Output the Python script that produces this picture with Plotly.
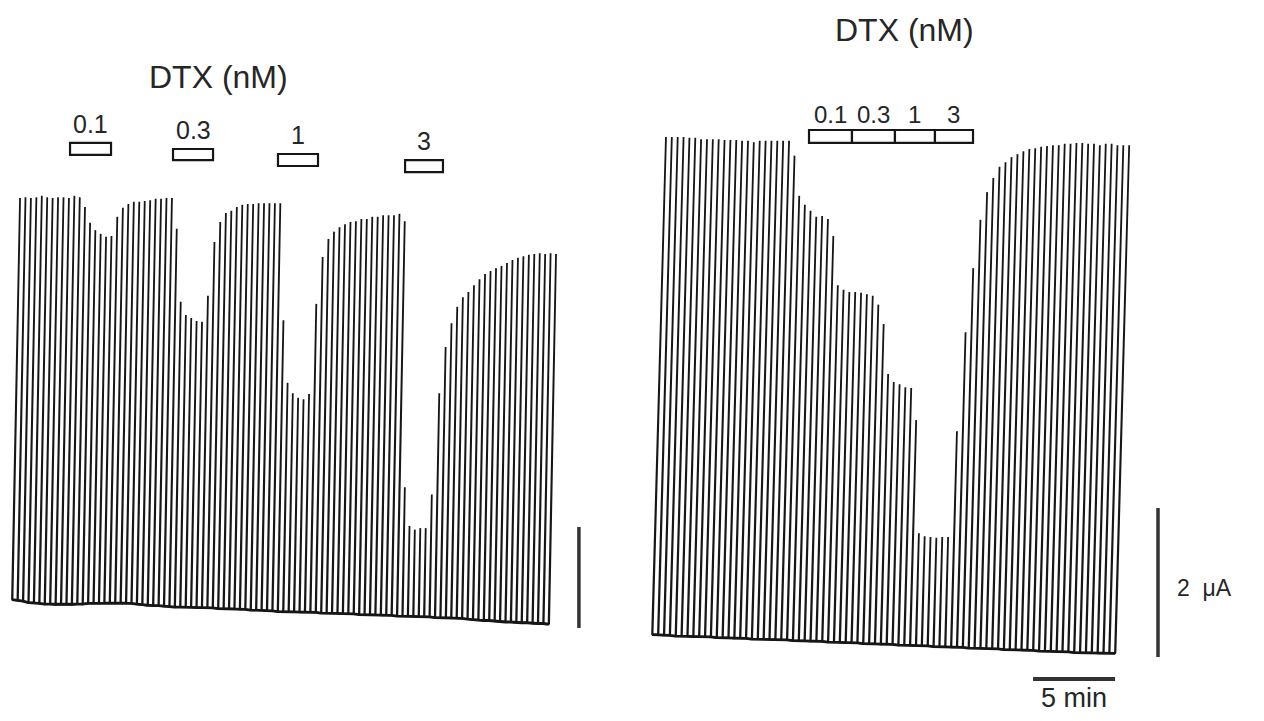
import numpy as np
import plotly.graph_objects as go

# ---------------- data (time in min, current in µA) ----------------
left_t0, left_dt = 0.732, 0.3305          # first pulse time, pulse interval (min)
right_t0, right_dt = 39.76, 0.3573

left_peak = [6.20, 6.21, 6.20, 6.21, 6.23, 6.21, 6.20, 6.21, 6.21, 6.20, 6.23, 6.21,
             6.08, 5.87, 5.77, 5.72, 5.68, 5.69, 5.95, 6.07, 6.12, 6.15, 6.15, 6.16,
             6.17, 6.19, 6.19, 6.20, 6.20,
             5.79, 4.81, 4.63, 4.59, 4.55, 4.54, 4.89, 5.61, 5.88, 6.00, 6.03, 6.08,
             6.11, 6.12, 6.12, 6.13, 6.13, 6.13, 6.13, 6.13,
             4.56, 3.72, 3.58, 3.52, 3.50, 3.57, 4.78, 5.41, 5.65, 5.75, 5.81, 5.85,
             5.88, 5.89, 5.92, 5.92, 5.95, 5.95, 5.97, 5.97, 5.97, 5.99, 5.89,
             2.32, 1.80, 1.75, 1.77, 1.77, 2.22, 3.58, 4.20, 4.52, 4.74, 4.87, 4.94,
             5.03, 5.11, 5.18, 5.22, 5.26, 5.29, 5.33, 5.37, 5.40, 5.42, 5.44, 5.45,
             5.46, 5.45, 5.46, 5.45]
left_base = [0.81, 0.80, 0.79, 0.77, 0.77, 0.76, 0.75, 0.75, 0.74, 0.74,
             0.74, 0.74, 0.75, 0.75, 0.76, 0.76, 0.76, 0.77, 0.77, 0.77,
             0.77, 0.77, 0.76, 0.75, 0.74, 0.73, 0.73, 0.73, 0.72, 0.72,
             0.71, 0.71, 0.71, 0.71, 0.70, 0.70, 0.70, 0.70, 0.69, 0.69,
             0.69, 0.69, 0.68, 0.68, 0.67, 0.67, 0.67, 0.66, 0.66, 0.65,
             0.65, 0.65, 0.65, 0.64, 0.64, 0.64, 0.64, 0.63, 0.63, 0.63,
             0.63, 0.62, 0.62, 0.62, 0.61, 0.61, 0.61, 0.61, 0.60, 0.60,
             0.60, 0.59, 0.59, 0.59, 0.59, 0.58, 0.58, 0.58, 0.57, 0.57,
             0.57, 0.57, 0.56, 0.56, 0.55, 0.54, 0.54, 0.53, 0.53, 0.52,
             0.52, 0.51, 0.51, 0.50, 0.50, 0.50, 0.49, 0.49, 0.49, 0.48]

right_peak = [7.02, 7.02, 7.02, 7.02, 7.01, 7.01, 6.99, 6.99, 6.99, 6.99, 6.98,
              6.98, 6.98, 6.97, 6.97, 6.95, 6.97, 6.97, 6.97, 6.97, 6.97, 6.97,
              6.77, 6.23, 6.11, 6.03, 5.95, 5.96, 5.92, 5.69,
              5.03, 4.97, 4.94, 4.94, 4.93, 4.91, 4.89, 4.77, 4.51,
              3.84, 3.73, 3.70, 3.66, 3.65,
              3.22, 1.70, 1.66, 1.65, 1.64, 1.65, 1.65,
              3.07, 4.40, 5.26, 5.91, 6.28, 6.47,
              6.62, 6.68, 6.75, 6.79, 6.83, 6.86, 6.87, 6.89, 6.90, 6.91, 6.91,
              6.93, 6.93, 6.94, 6.94, 6.93, 6.93, 6.91, 6.93, 6.93, 6.91, 6.91, 6.91]
right_base = [0.34, 0.34, 0.33, 0.33, 0.32, 0.32, 0.32, 0.31, 0.31, 0.31,
              0.31, 0.30, 0.30, 0.30, 0.29, 0.29, 0.29, 0.28, 0.28, 0.28,
              0.28, 0.27, 0.27, 0.27, 0.26, 0.26, 0.26, 0.25, 0.25, 0.25,
              0.24, 0.24, 0.24, 0.23, 0.23, 0.23, 0.22, 0.22, 0.22, 0.21,
              0.21, 0.21, 0.20, 0.20, 0.20, 0.19, 0.19, 0.19, 0.18, 0.18,
              0.18, 0.17, 0.17, 0.17, 0.16, 0.16, 0.16, 0.15, 0.15, 0.15,
              0.14, 0.14, 0.14, 0.13, 0.13, 0.13, 0.12, 0.12, 0.12, 0.11,
              0.11, 0.11, 0.10, 0.10, 0.10, 0.10, 0.09, 0.09, 0.09, 0.09]

dtx_labels = ["0.1", "0.3", "1", "3"]
left_dtx_start = [4.27, 10.55, 16.95, 24.70]
left_dtx_end = [6.77, 12.99, 19.39, 27.01]
right_dtx_start = [49.33, 51.95, 54.57, 57.01]
right_dtx_end = [51.95, 54.57, 57.01, 59.33]

# calibration bars
amp_bar_left = (35.3, 0.43, 1.785)   # x, y0, y1 (unlabelled)
amp_bar = (70.61, 0.04, 2.04)        # 2 µA
time_bar = (62.99, 67.99, -0.255)    # 5 min

# ---------------- styling / layout constants ----------------
PX_PER_MIN = 16.4
PX_PER_UA = 74.5
W, H = 1264, 721
PAGE_MARGIN = 8                      # default body margin of the html page
Y_ZERO_PX = 660
LEAN_LEFT, LEAN_RIGHT = 0.091, 0.127   # pen slant (min per µA)
left_box_y = [(6.78, 6.94), (6.711, 6.859), (6.631, 6.792), (6.550, 6.711)]
right_box_y = (6.94, 7.114)
FONT = "Liberation Sans, Arial, Helvetica, sans-serif"
INK = "#161616"
TEXT = "#262626"


def pen_path(t0, dt, peak, base, lean):
    xs, ys = [], []
    for i, (p, b) in enumerate(zip(peak, base)):
        tb = t0 + dt * i
        tt = tb + lean * (p - b)
        xs += [tb, tt, tb + 0.03]
        ys += [b, p, b]
    return xs, ys


fig = go.Figure()
for t0, dt, pk, bs, ln in [(left_t0, left_dt, left_peak, left_base, LEAN_LEFT),
                           (right_t0, right_dt, right_peak, right_base, LEAN_RIGHT)]:
    xs, ys = pen_path(t0, dt, pk, bs, ln)
    fig.add_trace(go.Scatter(x=xs, y=ys, mode="lines",
                             line=dict(color=INK, width=1.8),
                             hoverinfo="skip", showlegend=False))
    tb = [t0 + dt * i for i in range(len(bs))]
    fig.add_trace(go.Scatter(x=tb, y=bs, mode="lines",
                             line=dict(color=INK, width=2.8),
                             hoverinfo="skip", showlegend=False))

shapes = []
annotations = []
for s, e, (y0, y1), lab in zip(left_dtx_start, left_dtx_end, left_box_y, dtx_labels):
    shapes.append(dict(type="rect", xref="x", yref="y", x0=s, x1=e, y0=y0, y1=y1,
                       line=dict(color=INK, width=2.2), fillcolor="white"))
    annotations.append(dict(x=(s + e) / 2, y=y1 + 0.26, xref="x", yref="y",
                            text=lab, showarrow=False,
                            font=dict(family=FONT, size=25, color=TEXT)))
for s, e, lab in zip(right_dtx_start, right_dtx_end, dtx_labels):
    shapes.append(dict(type="rect", xref="x", yref="y", x0=s, x1=e,
                       y0=right_box_y[0], y1=right_box_y[1],
                       line=dict(color=INK, width=2.2), fillcolor="white"))
    annotations.append(dict(x=(s + e) / 2, y=right_box_y[1] + 0.21, xref="x", yref="y",
                            text=lab, showarrow=False,
                            font=dict(family=FONT, size=24, color=TEXT)))

annotations.append(dict(x=13.35, y=7.83, xref="x", yref="y", text="DTX (nM)",
                        showarrow=False, font=dict(family=FONT, size=32, color=TEXT)))
annotations.append(dict(x=55.18, y=8.46, xref="x", yref="y", text="DTX (nM)",
                        showarrow=False, font=dict(family=FONT, size=32, color=TEXT)))

shapes.append(dict(type="line", xref="x", yref="y", x0=amp_bar_left[0], x1=amp_bar_left[0],
                   y0=amp_bar_left[1], y1=amp_bar_left[2], line=dict(color="#333", width=3.5)))
shapes.append(dict(type="line", xref="x", yref="y", x0=amp_bar[0], x1=amp_bar[0],
                   y0=amp_bar[1], y1=amp_bar[2], line=dict(color="#333", width=3.5)))
shapes.append(dict(type="line", xref="x", yref="y", x0=time_bar[0], x1=time_bar[1],
                   y0=time_bar[2], y1=time_bar[2], line=dict(color="#333", width=4)))
annotations.append(dict(x=71.65, y=0.966, xref="x", yref="y", text="2  μA",
                        xanchor="left", showarrow=False,
                        font=dict(family=FONT, size=23, color=TEXT)))
annotations.append(dict(x=(time_bar[0] + time_bar[1]) / 2, y=-0.51, xref="x", yref="y",
                        text="5 min", showarrow=False,
                        font=dict(family=FONT, size=27, color=TEXT)))

x_lo = PAGE_MARGIN / PX_PER_MIN
y_hi = (Y_ZERO_PX - PAGE_MARGIN) / PX_PER_UA
fig.update_layout(
    width=W, height=H, margin=dict(l=0, r=0, t=0, b=0),
    paper_bgcolor="white", plot_bgcolor="white",
    xaxis=dict(range=[x_lo, x_lo + W / PX_PER_MIN], visible=False, fixedrange=True),
    yaxis=dict(range=[y_hi - H / PX_PER_UA, y_hi], visible=False, fixedrange=True),
    shapes=shapes, annotations=annotations,
)
fig.write_html("out.html")
